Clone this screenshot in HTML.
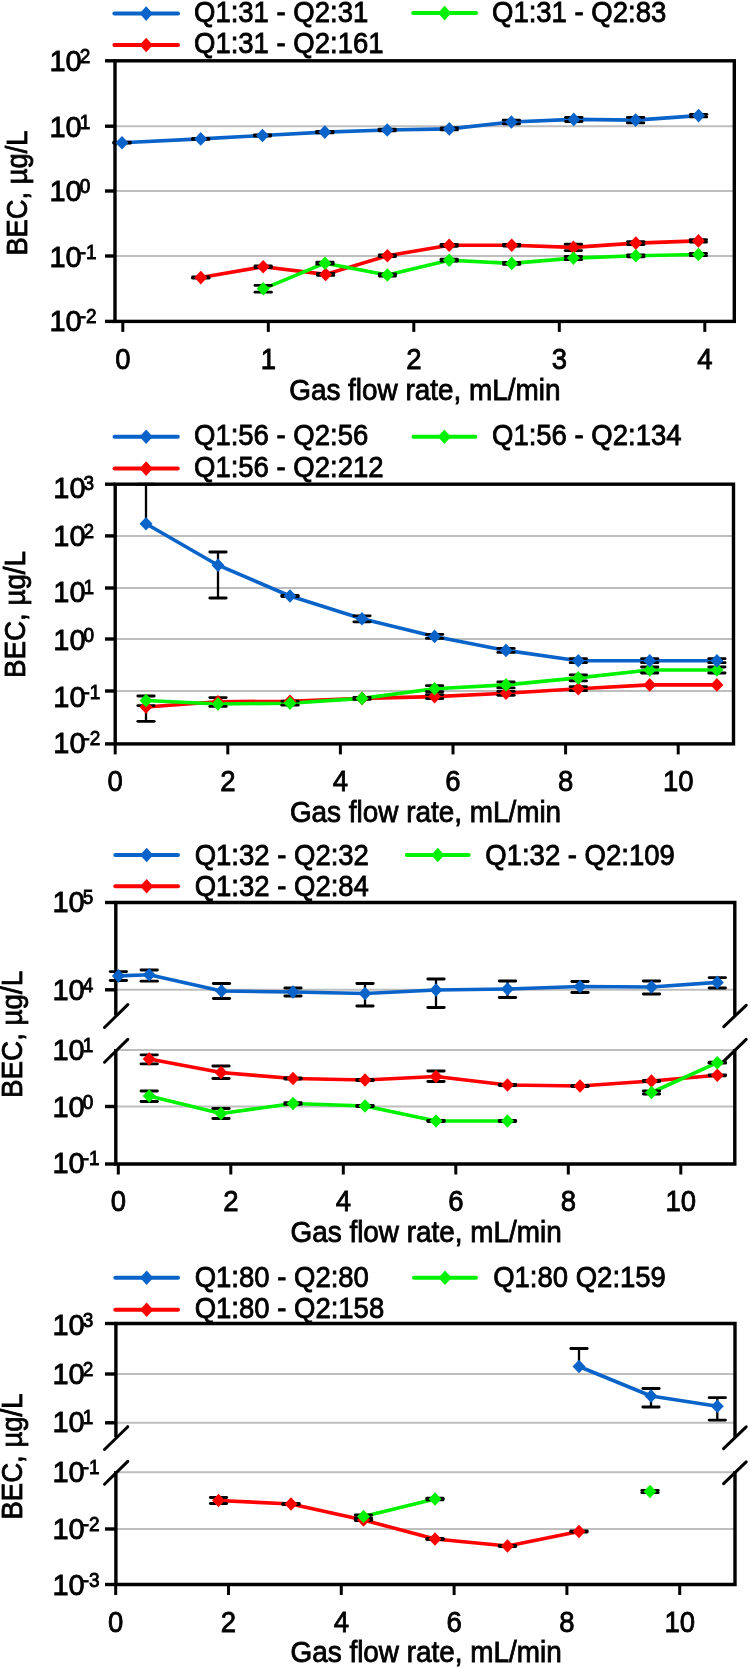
<!DOCTYPE html>
<html><head><meta charset="utf-8"><style>
html,body{margin:0;padding:0;background:#fff;}
svg{display:block;filter:blur(0.35px);}
text{font-family:"Liberation Sans",sans-serif;fill:#000;stroke:#000;stroke-width:0.8px;}
</style></head><body>
<svg width="750" height="1669" viewBox="0 0 750 1669">
<rect width="750" height="1669" fill="#fff"/>
<line x1="115" y1="126.2" x2="734.3" y2="126.2" stroke="#BEBEBE" stroke-width="2" stroke-linecap="butt"/>
<line x1="115" y1="191" x2="734.3" y2="191" stroke="#BEBEBE" stroke-width="2" stroke-linecap="butt"/>
<line x1="115" y1="256" x2="734.3" y2="256" stroke="#BEBEBE" stroke-width="2" stroke-linecap="butt"/>
<line x1="114.4" y1="13.6" x2="178" y2="13.6" stroke="#0A63C9" stroke-width="4" stroke-linecap="round"/>
<path d="M146.2 6.3L152.79999999999998 13.6L146.2 20.9L139.6 13.6Z" fill="#0A63C9"/>
<text transform="translate(194.00 21.80) scale(1 1.04)" font-size="27.5" text-anchor="start" stroke-width="0.8" >Q1:31 - Q2:31</text>
<line x1="114.4" y1="45" x2="178" y2="45" stroke="#FF0000" stroke-width="4" stroke-linecap="round"/>
<path d="M146.2 37.7L152.79999999999998 45L146.2 52.3L139.6 45Z" fill="#FF0000"/>
<text transform="translate(194.00 53.40) scale(1 1.04)" font-size="27.5" text-anchor="start" stroke-width="0.8" >Q1:31 - Q2:161</text>
<line x1="413.2" y1="13.1" x2="476" y2="13.1" stroke="#00F200" stroke-width="4" stroke-linecap="round"/>
<path d="M444.6 5.8L451.20000000000005 13.1L444.6 20.4L438.0 13.1Z" fill="#00F200"/>
<text transform="translate(492.00 21.80) scale(1 1.04)" font-size="27.5" text-anchor="start" stroke-width="0.8" >Q1:31 - Q2:83</text>
<rect x="115" y="60.8" width="619.3" height="260.59999999999997" fill="none" stroke="#000" stroke-width="3.4"/>
<line x1="105" y1="60.8" x2="115" y2="60.8" stroke="#000" stroke-width="3.4" stroke-linecap="butt"/>
<line x1="105" y1="126.2" x2="115" y2="126.2" stroke="#000" stroke-width="3.4" stroke-linecap="butt"/>
<line x1="105" y1="191" x2="115" y2="191" stroke="#000" stroke-width="3.4" stroke-linecap="butt"/>
<line x1="105" y1="256" x2="115" y2="256" stroke="#000" stroke-width="3.4" stroke-linecap="butt"/>
<line x1="105" y1="321.4" x2="115" y2="321.4" stroke="#000" stroke-width="3.4" stroke-linecap="butt"/>
<path d="M122.00 142.70C122.00 142.70 200.70 138.90 200.70 138.90C200.70 138.90 262.50 135.50 262.50 135.50C262.50 135.50 324.80 132.10 324.80 132.10C324.80 132.10 387.20 130.00 387.20 130.00C387.20 130.00 449.30 128.90 449.30 128.90C449.30 128.90 511.40 122.00 511.40 122.00C511.40 122.00 573.80 119.40 573.80 119.40C573.80 119.40 635.60 120.10 635.60 120.10C635.60 120.10 698.60 115.60 698.60 115.60" fill="none" stroke="#0A63C9" stroke-width="3.6" stroke-linejoin="round"/>
<path d="M200.80 277.60C200.80 277.60 263.20 266.70 263.20 266.70C263.20 266.70 325.60 274.40 325.60 274.40C325.60 274.40 387.40 255.80 387.40 255.80C387.40 255.80 449.20 245.30 449.20 245.30C449.20 245.30 511.70 245.30 511.70 245.30C511.70 245.30 573.40 247.40 573.40 247.40C573.40 247.40 635.80 243.10 635.80 243.10C635.80 243.10 698.40 240.90 698.40 240.90" fill="none" stroke="#FF0000" stroke-width="3.6" stroke-linejoin="round"/>
<path d="M263.20 288.80C263.20 288.80 325.00 263.20 325.00 263.20C325.00 263.20 387.40 275.00 387.40 275.00C387.40 275.00 449.20 260.20 449.20 260.20C449.20 260.20 511.70 263.40 511.70 263.40C511.70 263.40 573.40 258.10 573.40 258.10C573.40 258.10 635.80 255.80 635.80 255.80C635.80 255.80 698.40 254.50 698.40 254.50" fill="none" stroke="#00F200" stroke-width="3.6" stroke-linejoin="round"/>
<line x1="122" y1="142.2" x2="122" y2="142.7" stroke="#000" stroke-width="2.3" stroke-linecap="butt"/>
<line x1="113.8" y1="142.2" x2="130.2" y2="142.2" stroke="#000" stroke-width="2.8" stroke-linecap="round"/>
<line x1="122" y1="142.7" x2="122" y2="143.2" stroke="#000" stroke-width="2.3" stroke-linecap="butt"/>
<line x1="113.8" y1="143.2" x2="130.2" y2="143.2" stroke="#000" stroke-width="2.8" stroke-linecap="round"/>
<line x1="200.7" y1="138.4" x2="200.7" y2="138.9" stroke="#000" stroke-width="2.3" stroke-linecap="butt"/>
<line x1="192.5" y1="138.4" x2="208.89999999999998" y2="138.4" stroke="#000" stroke-width="2.8" stroke-linecap="round"/>
<line x1="200.7" y1="138.9" x2="200.7" y2="139.4" stroke="#000" stroke-width="2.3" stroke-linecap="butt"/>
<line x1="192.5" y1="139.4" x2="208.89999999999998" y2="139.4" stroke="#000" stroke-width="2.8" stroke-linecap="round"/>
<line x1="262.5" y1="135.0" x2="262.5" y2="135.5" stroke="#000" stroke-width="2.3" stroke-linecap="butt"/>
<line x1="254.3" y1="135.0" x2="270.7" y2="135.0" stroke="#000" stroke-width="2.8" stroke-linecap="round"/>
<line x1="262.5" y1="135.5" x2="262.5" y2="136.0" stroke="#000" stroke-width="2.3" stroke-linecap="butt"/>
<line x1="254.3" y1="136.0" x2="270.7" y2="136.0" stroke="#000" stroke-width="2.8" stroke-linecap="round"/>
<line x1="324.8" y1="131.29999999999998" x2="324.8" y2="132.1" stroke="#000" stroke-width="2.3" stroke-linecap="butt"/>
<line x1="316.6" y1="131.29999999999998" x2="333.0" y2="131.29999999999998" stroke="#000" stroke-width="2.8" stroke-linecap="round"/>
<line x1="324.8" y1="132.1" x2="324.8" y2="132.9" stroke="#000" stroke-width="2.3" stroke-linecap="butt"/>
<line x1="316.6" y1="132.9" x2="333.0" y2="132.9" stroke="#000" stroke-width="2.8" stroke-linecap="round"/>
<line x1="387.2" y1="129.2" x2="387.2" y2="130" stroke="#000" stroke-width="2.3" stroke-linecap="butt"/>
<line x1="379.0" y1="129.2" x2="395.4" y2="129.2" stroke="#000" stroke-width="2.8" stroke-linecap="round"/>
<line x1="387.2" y1="130" x2="387.2" y2="130.8" stroke="#000" stroke-width="2.3" stroke-linecap="butt"/>
<line x1="379.0" y1="130.8" x2="395.4" y2="130.8" stroke="#000" stroke-width="2.8" stroke-linecap="round"/>
<line x1="449.3" y1="127.9" x2="449.3" y2="128.9" stroke="#000" stroke-width="2.3" stroke-linecap="butt"/>
<line x1="441.1" y1="127.9" x2="457.5" y2="127.9" stroke="#000" stroke-width="2.8" stroke-linecap="round"/>
<line x1="449.3" y1="128.9" x2="449.3" y2="129.9" stroke="#000" stroke-width="2.3" stroke-linecap="butt"/>
<line x1="441.1" y1="129.9" x2="457.5" y2="129.9" stroke="#000" stroke-width="2.8" stroke-linecap="round"/>
<line x1="511.4" y1="120.2" x2="511.4" y2="122" stroke="#000" stroke-width="2.3" stroke-linecap="butt"/>
<line x1="503.2" y1="120.2" x2="519.6" y2="120.2" stroke="#000" stroke-width="2.8" stroke-linecap="round"/>
<line x1="511.4" y1="122" x2="511.4" y2="123.8" stroke="#000" stroke-width="2.3" stroke-linecap="butt"/>
<line x1="503.2" y1="123.8" x2="519.6" y2="123.8" stroke="#000" stroke-width="2.8" stroke-linecap="round"/>
<line x1="573.8" y1="117.30000000000001" x2="573.8" y2="119.4" stroke="#000" stroke-width="2.3" stroke-linecap="butt"/>
<line x1="565.5999999999999" y1="117.30000000000001" x2="582.0" y2="117.30000000000001" stroke="#000" stroke-width="2.8" stroke-linecap="round"/>
<line x1="573.8" y1="119.4" x2="573.8" y2="121.5" stroke="#000" stroke-width="2.3" stroke-linecap="butt"/>
<line x1="565.5999999999999" y1="121.5" x2="582.0" y2="121.5" stroke="#000" stroke-width="2.8" stroke-linecap="round"/>
<line x1="635.6" y1="117.3" x2="635.6" y2="120.1" stroke="#000" stroke-width="2.3" stroke-linecap="butt"/>
<line x1="627.4" y1="117.3" x2="643.8000000000001" y2="117.3" stroke="#000" stroke-width="2.8" stroke-linecap="round"/>
<line x1="635.6" y1="120.1" x2="635.6" y2="122.89999999999999" stroke="#000" stroke-width="2.3" stroke-linecap="butt"/>
<line x1="627.4" y1="122.89999999999999" x2="643.8000000000001" y2="122.89999999999999" stroke="#000" stroke-width="2.8" stroke-linecap="round"/>
<line x1="698.6" y1="114.3" x2="698.6" y2="115.6" stroke="#000" stroke-width="2.3" stroke-linecap="butt"/>
<line x1="690.4" y1="114.3" x2="706.8000000000001" y2="114.3" stroke="#000" stroke-width="2.8" stroke-linecap="round"/>
<line x1="698.6" y1="115.6" x2="698.6" y2="116.89999999999999" stroke="#000" stroke-width="2.3" stroke-linecap="butt"/>
<line x1="690.4" y1="116.89999999999999" x2="706.8000000000001" y2="116.89999999999999" stroke="#000" stroke-width="2.8" stroke-linecap="round"/>
<line x1="200.8" y1="277.0" x2="200.8" y2="277.6" stroke="#000" stroke-width="2.3" stroke-linecap="butt"/>
<line x1="192.60000000000002" y1="277.0" x2="209.0" y2="277.0" stroke="#000" stroke-width="2.8" stroke-linecap="round"/>
<line x1="200.8" y1="277.6" x2="200.8" y2="278.20000000000005" stroke="#000" stroke-width="2.3" stroke-linecap="butt"/>
<line x1="192.60000000000002" y1="278.20000000000005" x2="209.0" y2="278.20000000000005" stroke="#000" stroke-width="2.8" stroke-linecap="round"/>
<line x1="263.2" y1="265.9" x2="263.2" y2="266.7" stroke="#000" stroke-width="2.3" stroke-linecap="butt"/>
<line x1="255.0" y1="265.9" x2="271.4" y2="265.9" stroke="#000" stroke-width="2.8" stroke-linecap="round"/>
<line x1="263.2" y1="266.7" x2="263.2" y2="267.5" stroke="#000" stroke-width="2.3" stroke-linecap="butt"/>
<line x1="255.0" y1="267.5" x2="271.4" y2="267.5" stroke="#000" stroke-width="2.8" stroke-linecap="round"/>
<line x1="325.6" y1="273.4" x2="325.6" y2="274.4" stroke="#000" stroke-width="2.3" stroke-linecap="butt"/>
<line x1="317.40000000000003" y1="273.4" x2="333.8" y2="273.4" stroke="#000" stroke-width="2.8" stroke-linecap="round"/>
<line x1="325.6" y1="274.4" x2="325.6" y2="275.4" stroke="#000" stroke-width="2.3" stroke-linecap="butt"/>
<line x1="317.40000000000003" y1="275.4" x2="333.8" y2="275.4" stroke="#000" stroke-width="2.8" stroke-linecap="round"/>
<line x1="387.4" y1="255.0" x2="387.4" y2="255.8" stroke="#000" stroke-width="2.3" stroke-linecap="butt"/>
<line x1="379.2" y1="255.0" x2="395.59999999999997" y2="255.0" stroke="#000" stroke-width="2.8" stroke-linecap="round"/>
<line x1="387.4" y1="255.8" x2="387.4" y2="256.6" stroke="#000" stroke-width="2.3" stroke-linecap="butt"/>
<line x1="379.2" y1="256.6" x2="395.59999999999997" y2="256.6" stroke="#000" stroke-width="2.8" stroke-linecap="round"/>
<line x1="449.2" y1="244.3" x2="449.2" y2="245.3" stroke="#000" stroke-width="2.3" stroke-linecap="butt"/>
<line x1="441.0" y1="244.3" x2="457.4" y2="244.3" stroke="#000" stroke-width="2.8" stroke-linecap="round"/>
<line x1="449.2" y1="245.3" x2="449.2" y2="246.3" stroke="#000" stroke-width="2.3" stroke-linecap="butt"/>
<line x1="441.0" y1="246.3" x2="457.4" y2="246.3" stroke="#000" stroke-width="2.8" stroke-linecap="round"/>
<line x1="511.7" y1="244.5" x2="511.7" y2="245.3" stroke="#000" stroke-width="2.3" stroke-linecap="butt"/>
<line x1="503.5" y1="244.5" x2="519.9" y2="244.5" stroke="#000" stroke-width="2.8" stroke-linecap="round"/>
<line x1="511.7" y1="245.3" x2="511.7" y2="246.10000000000002" stroke="#000" stroke-width="2.3" stroke-linecap="butt"/>
<line x1="503.5" y1="246.10000000000002" x2="519.9" y2="246.10000000000002" stroke="#000" stroke-width="2.8" stroke-linecap="round"/>
<line x1="573.4" y1="244.20000000000002" x2="573.4" y2="247.4" stroke="#000" stroke-width="2.3" stroke-linecap="butt"/>
<line x1="565.1999999999999" y1="244.20000000000002" x2="581.6" y2="244.20000000000002" stroke="#000" stroke-width="2.8" stroke-linecap="round"/>
<line x1="573.4" y1="247.4" x2="573.4" y2="250.6" stroke="#000" stroke-width="2.3" stroke-linecap="butt"/>
<line x1="565.1999999999999" y1="250.6" x2="581.6" y2="250.6" stroke="#000" stroke-width="2.8" stroke-linecap="round"/>
<line x1="635.8" y1="241.6" x2="635.8" y2="243.1" stroke="#000" stroke-width="2.3" stroke-linecap="butt"/>
<line x1="627.5999999999999" y1="241.6" x2="644.0" y2="241.6" stroke="#000" stroke-width="2.8" stroke-linecap="round"/>
<line x1="635.8" y1="243.1" x2="635.8" y2="244.6" stroke="#000" stroke-width="2.3" stroke-linecap="butt"/>
<line x1="627.5999999999999" y1="244.6" x2="644.0" y2="244.6" stroke="#000" stroke-width="2.8" stroke-linecap="round"/>
<line x1="698.4" y1="239.70000000000002" x2="698.4" y2="240.9" stroke="#000" stroke-width="2.3" stroke-linecap="butt"/>
<line x1="690.1999999999999" y1="239.70000000000002" x2="706.6" y2="239.70000000000002" stroke="#000" stroke-width="2.8" stroke-linecap="round"/>
<line x1="698.4" y1="240.9" x2="698.4" y2="242.1" stroke="#000" stroke-width="2.3" stroke-linecap="butt"/>
<line x1="690.1999999999999" y1="242.1" x2="706.6" y2="242.1" stroke="#000" stroke-width="2.8" stroke-linecap="round"/>
<line x1="263.2" y1="285.40000000000003" x2="263.2" y2="288.8" stroke="#000" stroke-width="2.3" stroke-linecap="butt"/>
<line x1="255.0" y1="285.40000000000003" x2="271.4" y2="285.40000000000003" stroke="#000" stroke-width="2.8" stroke-linecap="round"/>
<line x1="263.2" y1="288.8" x2="263.2" y2="292.2" stroke="#000" stroke-width="2.3" stroke-linecap="butt"/>
<line x1="255.0" y1="292.2" x2="271.4" y2="292.2" stroke="#000" stroke-width="2.8" stroke-linecap="round"/>
<line x1="325" y1="262.2" x2="325" y2="263.2" stroke="#000" stroke-width="2.3" stroke-linecap="butt"/>
<line x1="316.8" y1="262.2" x2="333.2" y2="262.2" stroke="#000" stroke-width="2.8" stroke-linecap="round"/>
<line x1="325" y1="263.2" x2="325" y2="264.2" stroke="#000" stroke-width="2.3" stroke-linecap="butt"/>
<line x1="316.8" y1="264.2" x2="333.2" y2="264.2" stroke="#000" stroke-width="2.8" stroke-linecap="round"/>
<line x1="387.4" y1="274" x2="387.4" y2="275" stroke="#000" stroke-width="2.3" stroke-linecap="butt"/>
<line x1="379.2" y1="274" x2="395.59999999999997" y2="274" stroke="#000" stroke-width="2.8" stroke-linecap="round"/>
<line x1="387.4" y1="275" x2="387.4" y2="276" stroke="#000" stroke-width="2.3" stroke-linecap="butt"/>
<line x1="379.2" y1="276" x2="395.59999999999997" y2="276" stroke="#000" stroke-width="2.8" stroke-linecap="round"/>
<line x1="449.2" y1="259.2" x2="449.2" y2="260.2" stroke="#000" stroke-width="2.3" stroke-linecap="butt"/>
<line x1="441.0" y1="259.2" x2="457.4" y2="259.2" stroke="#000" stroke-width="2.8" stroke-linecap="round"/>
<line x1="449.2" y1="260.2" x2="449.2" y2="261.2" stroke="#000" stroke-width="2.3" stroke-linecap="butt"/>
<line x1="441.0" y1="261.2" x2="457.4" y2="261.2" stroke="#000" stroke-width="2.8" stroke-linecap="round"/>
<line x1="511.7" y1="262.4" x2="511.7" y2="263.4" stroke="#000" stroke-width="2.3" stroke-linecap="butt"/>
<line x1="503.5" y1="262.4" x2="519.9" y2="262.4" stroke="#000" stroke-width="2.8" stroke-linecap="round"/>
<line x1="511.7" y1="263.4" x2="511.7" y2="264.4" stroke="#000" stroke-width="2.3" stroke-linecap="butt"/>
<line x1="503.5" y1="264.4" x2="519.9" y2="264.4" stroke="#000" stroke-width="2.8" stroke-linecap="round"/>
<line x1="573.4" y1="256.5" x2="573.4" y2="258.1" stroke="#000" stroke-width="2.3" stroke-linecap="butt"/>
<line x1="565.1999999999999" y1="256.5" x2="581.6" y2="256.5" stroke="#000" stroke-width="2.8" stroke-linecap="round"/>
<line x1="573.4" y1="258.1" x2="573.4" y2="259.70000000000005" stroke="#000" stroke-width="2.3" stroke-linecap="butt"/>
<line x1="565.1999999999999" y1="259.70000000000005" x2="581.6" y2="259.70000000000005" stroke="#000" stroke-width="2.8" stroke-linecap="round"/>
<line x1="635.8" y1="254.8" x2="635.8" y2="255.8" stroke="#000" stroke-width="2.3" stroke-linecap="butt"/>
<line x1="627.5999999999999" y1="254.8" x2="644.0" y2="254.8" stroke="#000" stroke-width="2.8" stroke-linecap="round"/>
<line x1="635.8" y1="255.8" x2="635.8" y2="256.8" stroke="#000" stroke-width="2.3" stroke-linecap="butt"/>
<line x1="627.5999999999999" y1="256.8" x2="644.0" y2="256.8" stroke="#000" stroke-width="2.8" stroke-linecap="round"/>
<line x1="698.4" y1="253.3" x2="698.4" y2="254.5" stroke="#000" stroke-width="2.3" stroke-linecap="butt"/>
<line x1="690.1999999999999" y1="253.3" x2="706.6" y2="253.3" stroke="#000" stroke-width="2.8" stroke-linecap="round"/>
<line x1="698.4" y1="254.5" x2="698.4" y2="255.7" stroke="#000" stroke-width="2.3" stroke-linecap="butt"/>
<line x1="690.1999999999999" y1="255.7" x2="706.6" y2="255.7" stroke="#000" stroke-width="2.8" stroke-linecap="round"/>
<path d="M200.8 270.8L207.3 277.6L200.8 284.40000000000003L194.3 277.6Z" fill="#FF0000"/>
<path d="M263.2 259.9L269.7 266.7L263.2 273.5L256.7 266.7Z" fill="#FF0000"/>
<path d="M325.6 267.59999999999997L332.1 274.4L325.6 281.2L319.1 274.4Z" fill="#FF0000"/>
<path d="M387.4 249.0L393.9 255.8L387.4 262.6L380.9 255.8Z" fill="#FF0000"/>
<path d="M449.2 238.5L455.7 245.3L449.2 252.10000000000002L442.7 245.3Z" fill="#FF0000"/>
<path d="M511.7 238.5L518.2 245.3L511.7 252.10000000000002L505.2 245.3Z" fill="#FF0000"/>
<path d="M573.4 240.6L579.9 247.4L573.4 254.20000000000002L566.9 247.4Z" fill="#FF0000"/>
<path d="M635.8 236.29999999999998L642.3 243.1L635.8 249.9L629.3 243.1Z" fill="#FF0000"/>
<path d="M698.4 234.1L704.9 240.9L698.4 247.70000000000002L691.9 240.9Z" fill="#FF0000"/>
<path d="M263.2 282.0L269.7 288.8L263.2 295.6L256.7 288.8Z" fill="#00F200"/>
<path d="M325 256.4L331.5 263.2L325 270.0L318.5 263.2Z" fill="#00F200"/>
<path d="M387.4 268.2L393.9 275L387.4 281.8L380.9 275Z" fill="#00F200"/>
<path d="M449.2 253.39999999999998L455.7 260.2L449.2 267.0L442.7 260.2Z" fill="#00F200"/>
<path d="M511.7 256.59999999999997L518.2 263.4L511.7 270.2L505.2 263.4Z" fill="#00F200"/>
<path d="M573.4 251.3L579.9 258.1L573.4 264.90000000000003L566.9 258.1Z" fill="#00F200"/>
<path d="M635.8 249.0L642.3 255.8L635.8 262.6L629.3 255.8Z" fill="#00F200"/>
<path d="M698.4 247.7L704.9 254.5L698.4 261.3L691.9 254.5Z" fill="#00F200"/>
<path d="M122 135.89999999999998L128.5 142.7L122 149.5L115.5 142.7Z" fill="#0A63C9"/>
<path d="M200.7 132.1L207.2 138.9L200.7 145.70000000000002L194.2 138.9Z" fill="#0A63C9"/>
<path d="M262.5 128.7L269.0 135.5L262.5 142.3L256.0 135.5Z" fill="#0A63C9"/>
<path d="M324.8 125.3L331.3 132.1L324.8 138.9L318.3 132.1Z" fill="#0A63C9"/>
<path d="M387.2 123.2L393.7 130L387.2 136.8L380.7 130Z" fill="#0A63C9"/>
<path d="M449.3 122.10000000000001L455.8 128.9L449.3 135.70000000000002L442.8 128.9Z" fill="#0A63C9"/>
<path d="M511.4 115.2L517.9 122L511.4 128.8L504.9 122Z" fill="#0A63C9"/>
<path d="M573.8 112.60000000000001L580.3 119.4L573.8 126.2L567.3 119.4Z" fill="#0A63C9"/>
<path d="M635.6 113.3L642.1 120.1L635.6 126.89999999999999L629.1 120.1Z" fill="#0A63C9"/>
<path d="M698.6 108.8L705.1 115.6L698.6 122.39999999999999L692.1 115.6Z" fill="#0A63C9"/>
<line x1="122.8" y1="321.4" x2="122.8" y2="331.9" stroke="#000" stroke-width="3" stroke-linecap="butt"/>
<text transform="translate(122.80 369.20) scale(1 1.04)" font-size="27.5" text-anchor="middle" stroke-width="0.8" >0</text>
<line x1="268.3" y1="321.4" x2="268.3" y2="331.9" stroke="#000" stroke-width="3" stroke-linecap="butt"/>
<text transform="translate(268.30 369.20) scale(1 1.04)" font-size="27.5" text-anchor="middle" stroke-width="0.8" >1</text>
<line x1="413.8" y1="321.4" x2="413.8" y2="331.9" stroke="#000" stroke-width="3" stroke-linecap="butt"/>
<text transform="translate(413.80 369.20) scale(1 1.04)" font-size="27.5" text-anchor="middle" stroke-width="0.8" >2</text>
<line x1="559.3" y1="321.4" x2="559.3" y2="331.9" stroke="#000" stroke-width="3" stroke-linecap="butt"/>
<text transform="translate(559.30 369.20) scale(1 1.04)" font-size="27.5" text-anchor="middle" stroke-width="0.8" >3</text>
<line x1="704.8" y1="321.4" x2="704.8" y2="331.9" stroke="#000" stroke-width="3" stroke-linecap="butt"/>
<text transform="translate(704.80 369.20) scale(1 1.04)" font-size="27.5" text-anchor="middle" stroke-width="0.8" >4</text>
<text transform="translate(289.20 399.50) scale(1 1.04)" font-size="27.9" text-anchor="start" stroke-width="0.8" >Gas flow rate, mL/min</text>
<text transform="translate(49.40 70.88) scale(1 1.04)" font-size="29" stroke-width="0.8">10<tspan font-size="19" dx="-2" dy="-7.6">2</tspan></text>
<text transform="translate(49.40 136.58) scale(1 1.04)" font-size="29" stroke-width="0.8">10<tspan font-size="19" dx="-2" dy="-7.6">1</tspan></text>
<text transform="translate(49.40 201.38) scale(1 1.04)" font-size="29" stroke-width="0.8">10<tspan font-size="19" dx="-2" dy="-7.6">0</tspan></text>
<text transform="translate(49.40 267.08) scale(1 1.04)" font-size="29" stroke-width="0.8">10<tspan font-size="19" dx="-2" dy="-7.6">-1</tspan></text>
<text transform="translate(49.40 331.28) scale(1 1.04)" font-size="29" stroke-width="0.8">10<tspan font-size="19" dx="-2" dy="-7.6">-2</tspan></text>
<text transform="translate(27.3,193.1) rotate(-90) scale(1 1.04)" x="-62.5" y="0" font-size="28" textLength="125" lengthAdjust="spacingAndGlyphs" stroke="#000" stroke-width="0.7">BEC, µg/L</text>
<line x1="115.2" y1="535.9" x2="733.5" y2="535.9" stroke="#BEBEBE" stroke-width="2" stroke-linecap="butt"/>
<line x1="115.2" y1="588" x2="733.5" y2="588" stroke="#BEBEBE" stroke-width="2" stroke-linecap="butt"/>
<line x1="115.2" y1="639" x2="733.5" y2="639" stroke="#BEBEBE" stroke-width="2" stroke-linecap="butt"/>
<line x1="115.2" y1="691" x2="733.5" y2="691" stroke="#BEBEBE" stroke-width="2" stroke-linecap="butt"/>
<line x1="114.5" y1="436.8" x2="177.8" y2="436.8" stroke="#0A63C9" stroke-width="4" stroke-linecap="round"/>
<path d="M146.15 429.5L152.75 436.8L146.15 444.1L139.55 436.8Z" fill="#0A63C9"/>
<text transform="translate(194.00 445.30) scale(1 1.04)" font-size="27.5" text-anchor="start" stroke-width="0.8" >Q1:56 - Q2:56</text>
<line x1="114.5" y1="468.6" x2="177.8" y2="468.6" stroke="#FF0000" stroke-width="4" stroke-linecap="round"/>
<path d="M146.15 461.3L152.75 468.6L146.15 475.90000000000003L139.55 468.6Z" fill="#FF0000"/>
<text transform="translate(194.00 477.00) scale(1 1.04)" font-size="27.5" text-anchor="start" stroke-width="0.8" >Q1:56 - Q2:212</text>
<line x1="413.5" y1="436.8" x2="475.3" y2="436.8" stroke="#00F200" stroke-width="4" stroke-linecap="round"/>
<path d="M444.4 429.5L451.0 436.8L444.4 444.1L437.79999999999995 436.8Z" fill="#00F200"/>
<text transform="translate(492.00 445.30) scale(1 1.04)" font-size="27.5" text-anchor="start" stroke-width="0.8" >Q1:56 - Q2:134</text>
<rect x="115.2" y="484.2" width="618.3" height="259.7" fill="none" stroke="#000" stroke-width="3.4"/>
<line x1="105" y1="484.2" x2="115.2" y2="484.2" stroke="#000" stroke-width="3.4" stroke-linecap="butt"/>
<line x1="105" y1="535.9" x2="115.2" y2="535.9" stroke="#000" stroke-width="3.4" stroke-linecap="butt"/>
<line x1="105" y1="588" x2="115.2" y2="588" stroke="#000" stroke-width="3.4" stroke-linecap="butt"/>
<line x1="105" y1="639" x2="115.2" y2="639" stroke="#000" stroke-width="3.4" stroke-linecap="butt"/>
<line x1="105" y1="691" x2="115.2" y2="691" stroke="#000" stroke-width="3.4" stroke-linecap="butt"/>
<line x1="105" y1="743.9" x2="115.2" y2="743.9" stroke="#000" stroke-width="3.4" stroke-linecap="butt"/>
<path d="M146.00 523.80C146.00 523.80 218.00 565.20 218.00 565.20C218.00 565.20 290.00 596.00 290.00 596.00C290.00 596.00 362.00 618.80 362.00 618.80C362.00 618.80 434.60 636.40 434.60 636.40C434.60 636.40 506.00 650.40 506.00 650.40C506.00 650.40 578.30 660.70 578.30 660.70C578.30 660.70 649.70 660.70 649.70 660.70C649.70 660.70 716.90 660.70 716.90 660.70" fill="none" stroke="#0A63C9" stroke-width="3.6" stroke-linejoin="round"/>
<path d="M146.00 707.00C146.00 707.00 218.00 701.70 218.00 701.70C218.00 701.70 290.00 701.20 290.00 701.20C290.00 701.20 362.00 698.40 362.00 698.40C362.00 698.40 434.60 696.60 434.60 696.60C434.60 696.60 506.00 693.30 506.00 693.30C506.00 693.30 578.30 688.70 578.30 688.70C578.30 688.70 649.70 684.90 649.70 684.90C649.70 684.90 716.90 684.90 716.90 684.90" fill="none" stroke="#FF0000" stroke-width="3.6" stroke-linejoin="round"/>
<path d="M146.00 700.50C146.00 700.50 218.00 704.00 218.00 704.00C218.00 704.00 290.00 703.20 290.00 703.20C290.00 703.20 362.00 698.40 362.00 698.40C362.00 698.40 434.60 688.70 434.60 688.70C434.60 688.70 506.00 684.90 506.00 684.90C506.00 684.90 578.30 677.90 578.30 677.90C578.30 677.90 649.70 670.00 649.70 670.00C649.70 670.00 716.90 670.00 716.90 670.00" fill="none" stroke="#00F200" stroke-width="3.6" stroke-linejoin="round"/>
<line x1="146" y1="484.2" x2="146" y2="523.8" stroke="#000" stroke-width="2.3" stroke-linecap="butt"/>
<line x1="137.8" y1="484.2" x2="154.2" y2="484.2" stroke="#000" stroke-width="2.8" stroke-linecap="round"/>
<line x1="218" y1="552" x2="218" y2="565.2" stroke="#000" stroke-width="2.3" stroke-linecap="butt"/>
<line x1="209.8" y1="552" x2="226.2" y2="552" stroke="#000" stroke-width="2.8" stroke-linecap="round"/>
<line x1="218" y1="565.2" x2="218" y2="598" stroke="#000" stroke-width="2.3" stroke-linecap="butt"/>
<line x1="209.8" y1="598" x2="226.2" y2="598" stroke="#000" stroke-width="2.8" stroke-linecap="round"/>
<line x1="290" y1="595.5" x2="290" y2="596" stroke="#000" stroke-width="2.3" stroke-linecap="butt"/>
<line x1="281.8" y1="595.5" x2="298.2" y2="595.5" stroke="#000" stroke-width="2.8" stroke-linecap="round"/>
<line x1="290" y1="596" x2="290" y2="596.5" stroke="#000" stroke-width="2.3" stroke-linecap="butt"/>
<line x1="281.8" y1="596.5" x2="298.2" y2="596.5" stroke="#000" stroke-width="2.8" stroke-linecap="round"/>
<line x1="362" y1="615.8" x2="362" y2="618.8" stroke="#000" stroke-width="2.3" stroke-linecap="butt"/>
<line x1="353.8" y1="615.8" x2="370.2" y2="615.8" stroke="#000" stroke-width="2.8" stroke-linecap="round"/>
<line x1="362" y1="618.8" x2="362" y2="621.8" stroke="#000" stroke-width="2.3" stroke-linecap="butt"/>
<line x1="353.8" y1="621.8" x2="370.2" y2="621.8" stroke="#000" stroke-width="2.8" stroke-linecap="round"/>
<line x1="434.6" y1="634.4" x2="434.6" y2="636.4" stroke="#000" stroke-width="2.3" stroke-linecap="butt"/>
<line x1="426.40000000000003" y1="634.4" x2="442.8" y2="634.4" stroke="#000" stroke-width="2.8" stroke-linecap="round"/>
<line x1="434.6" y1="636.4" x2="434.6" y2="638.4" stroke="#000" stroke-width="2.3" stroke-linecap="butt"/>
<line x1="426.40000000000003" y1="638.4" x2="442.8" y2="638.4" stroke="#000" stroke-width="2.8" stroke-linecap="round"/>
<line x1="506" y1="648.4" x2="506" y2="650.4" stroke="#000" stroke-width="2.3" stroke-linecap="butt"/>
<line x1="497.8" y1="648.4" x2="514.2" y2="648.4" stroke="#000" stroke-width="2.8" stroke-linecap="round"/>
<line x1="506" y1="650.4" x2="506" y2="652.4" stroke="#000" stroke-width="2.3" stroke-linecap="butt"/>
<line x1="497.8" y1="652.4" x2="514.2" y2="652.4" stroke="#000" stroke-width="2.8" stroke-linecap="round"/>
<line x1="578.3" y1="658.7" x2="578.3" y2="660.7" stroke="#000" stroke-width="2.3" stroke-linecap="butt"/>
<line x1="570.0999999999999" y1="658.7" x2="586.5" y2="658.7" stroke="#000" stroke-width="2.8" stroke-linecap="round"/>
<line x1="578.3" y1="660.7" x2="578.3" y2="662.7" stroke="#000" stroke-width="2.3" stroke-linecap="butt"/>
<line x1="570.0999999999999" y1="662.7" x2="586.5" y2="662.7" stroke="#000" stroke-width="2.8" stroke-linecap="round"/>
<line x1="649.7" y1="658.7" x2="649.7" y2="660.7" stroke="#000" stroke-width="2.3" stroke-linecap="butt"/>
<line x1="641.5" y1="658.7" x2="657.9000000000001" y2="658.7" stroke="#000" stroke-width="2.8" stroke-linecap="round"/>
<line x1="649.7" y1="660.7" x2="649.7" y2="662.7" stroke="#000" stroke-width="2.3" stroke-linecap="butt"/>
<line x1="641.5" y1="662.7" x2="657.9000000000001" y2="662.7" stroke="#000" stroke-width="2.8" stroke-linecap="round"/>
<line x1="716.9" y1="658.7" x2="716.9" y2="660.7" stroke="#000" stroke-width="2.3" stroke-linecap="butt"/>
<line x1="708.6999999999999" y1="658.7" x2="725.1" y2="658.7" stroke="#000" stroke-width="2.8" stroke-linecap="round"/>
<line x1="716.9" y1="660.7" x2="716.9" y2="662.7" stroke="#000" stroke-width="2.3" stroke-linecap="butt"/>
<line x1="708.6999999999999" y1="662.7" x2="725.1" y2="662.7" stroke="#000" stroke-width="2.8" stroke-linecap="round"/>
<line x1="146" y1="707" x2="146" y2="721.3" stroke="#000" stroke-width="2.3" stroke-linecap="butt"/>
<line x1="137.8" y1="721.3" x2="154.2" y2="721.3" stroke="#000" stroke-width="2.8" stroke-linecap="round"/>
<line x1="434.6" y1="694.6" x2="434.6" y2="696.6" stroke="#000" stroke-width="2.3" stroke-linecap="butt"/>
<line x1="426.40000000000003" y1="694.6" x2="442.8" y2="694.6" stroke="#000" stroke-width="2.8" stroke-linecap="round"/>
<line x1="434.6" y1="696.6" x2="434.6" y2="698.6" stroke="#000" stroke-width="2.3" stroke-linecap="butt"/>
<line x1="426.40000000000003" y1="698.6" x2="442.8" y2="698.6" stroke="#000" stroke-width="2.8" stroke-linecap="round"/>
<line x1="506" y1="691.3" x2="506" y2="693.3" stroke="#000" stroke-width="2.3" stroke-linecap="butt"/>
<line x1="497.8" y1="691.3" x2="514.2" y2="691.3" stroke="#000" stroke-width="2.8" stroke-linecap="round"/>
<line x1="506" y1="693.3" x2="506" y2="695.3" stroke="#000" stroke-width="2.3" stroke-linecap="butt"/>
<line x1="497.8" y1="695.3" x2="514.2" y2="695.3" stroke="#000" stroke-width="2.8" stroke-linecap="round"/>
<line x1="578.3" y1="686.7" x2="578.3" y2="688.7" stroke="#000" stroke-width="2.3" stroke-linecap="butt"/>
<line x1="570.0999999999999" y1="686.7" x2="586.5" y2="686.7" stroke="#000" stroke-width="2.8" stroke-linecap="round"/>
<line x1="578.3" y1="688.7" x2="578.3" y2="690.7" stroke="#000" stroke-width="2.3" stroke-linecap="butt"/>
<line x1="570.0999999999999" y1="690.7" x2="586.5" y2="690.7" stroke="#000" stroke-width="2.8" stroke-linecap="round"/>
<line x1="146" y1="696" x2="146" y2="700.5" stroke="#000" stroke-width="2.3" stroke-linecap="butt"/>
<line x1="137.8" y1="696" x2="154.2" y2="696" stroke="#000" stroke-width="2.8" stroke-linecap="round"/>
<line x1="146" y1="700.5" x2="146" y2="705.6" stroke="#000" stroke-width="2.3" stroke-linecap="butt"/>
<line x1="137.8" y1="705.6" x2="154.2" y2="705.6" stroke="#000" stroke-width="2.8" stroke-linecap="round"/>
<line x1="218" y1="697.6" x2="218" y2="704" stroke="#000" stroke-width="2.3" stroke-linecap="butt"/>
<line x1="209.8" y1="697.6" x2="226.2" y2="697.6" stroke="#000" stroke-width="2.8" stroke-linecap="round"/>
<line x1="218" y1="704" x2="218" y2="706.4" stroke="#000" stroke-width="2.3" stroke-linecap="butt"/>
<line x1="209.8" y1="706.4" x2="226.2" y2="706.4" stroke="#000" stroke-width="2.8" stroke-linecap="round"/>
<line x1="290" y1="701.2" x2="290" y2="703.2" stroke="#000" stroke-width="2.3" stroke-linecap="butt"/>
<line x1="281.8" y1="701.2" x2="298.2" y2="701.2" stroke="#000" stroke-width="2.8" stroke-linecap="round"/>
<line x1="290" y1="703.2" x2="290" y2="705.2" stroke="#000" stroke-width="2.3" stroke-linecap="butt"/>
<line x1="281.8" y1="705.2" x2="298.2" y2="705.2" stroke="#000" stroke-width="2.8" stroke-linecap="round"/>
<line x1="362" y1="697.4" x2="362" y2="698.4" stroke="#000" stroke-width="2.3" stroke-linecap="butt"/>
<line x1="353.8" y1="697.4" x2="370.2" y2="697.4" stroke="#000" stroke-width="2.8" stroke-linecap="round"/>
<line x1="362" y1="698.4" x2="362" y2="699.4" stroke="#000" stroke-width="2.3" stroke-linecap="butt"/>
<line x1="353.8" y1="699.4" x2="370.2" y2="699.4" stroke="#000" stroke-width="2.8" stroke-linecap="round"/>
<line x1="434.6" y1="685.7" x2="434.6" y2="688.7" stroke="#000" stroke-width="2.3" stroke-linecap="butt"/>
<line x1="426.40000000000003" y1="685.7" x2="442.8" y2="685.7" stroke="#000" stroke-width="2.8" stroke-linecap="round"/>
<line x1="434.6" y1="688.7" x2="434.6" y2="691.7" stroke="#000" stroke-width="2.3" stroke-linecap="butt"/>
<line x1="426.40000000000003" y1="691.7" x2="442.8" y2="691.7" stroke="#000" stroke-width="2.8" stroke-linecap="round"/>
<line x1="506" y1="681.9" x2="506" y2="684.9" stroke="#000" stroke-width="2.3" stroke-linecap="butt"/>
<line x1="497.8" y1="681.9" x2="514.2" y2="681.9" stroke="#000" stroke-width="2.8" stroke-linecap="round"/>
<line x1="506" y1="684.9" x2="506" y2="687.9" stroke="#000" stroke-width="2.3" stroke-linecap="butt"/>
<line x1="497.8" y1="687.9" x2="514.2" y2="687.9" stroke="#000" stroke-width="2.8" stroke-linecap="round"/>
<line x1="578.3" y1="674.9" x2="578.3" y2="677.9" stroke="#000" stroke-width="2.3" stroke-linecap="butt"/>
<line x1="570.0999999999999" y1="674.9" x2="586.5" y2="674.9" stroke="#000" stroke-width="2.8" stroke-linecap="round"/>
<line x1="578.3" y1="677.9" x2="578.3" y2="680.9" stroke="#000" stroke-width="2.3" stroke-linecap="butt"/>
<line x1="570.0999999999999" y1="680.9" x2="586.5" y2="680.9" stroke="#000" stroke-width="2.8" stroke-linecap="round"/>
<line x1="649.7" y1="667" x2="649.7" y2="670" stroke="#000" stroke-width="2.3" stroke-linecap="butt"/>
<line x1="641.5" y1="667" x2="657.9000000000001" y2="667" stroke="#000" stroke-width="2.8" stroke-linecap="round"/>
<line x1="649.7" y1="670" x2="649.7" y2="673" stroke="#000" stroke-width="2.3" stroke-linecap="butt"/>
<line x1="641.5" y1="673" x2="657.9000000000001" y2="673" stroke="#000" stroke-width="2.8" stroke-linecap="round"/>
<line x1="716.9" y1="667" x2="716.9" y2="670" stroke="#000" stroke-width="2.3" stroke-linecap="butt"/>
<line x1="708.6999999999999" y1="667" x2="725.1" y2="667" stroke="#000" stroke-width="2.8" stroke-linecap="round"/>
<line x1="716.9" y1="670" x2="716.9" y2="673" stroke="#000" stroke-width="2.3" stroke-linecap="butt"/>
<line x1="708.6999999999999" y1="673" x2="725.1" y2="673" stroke="#000" stroke-width="2.8" stroke-linecap="round"/>
<path d="M146 700.2L152.5 707L146 713.8L139.5 707Z" fill="#FF0000"/>
<path d="M218 694.9000000000001L224.5 701.7L218 708.5L211.5 701.7Z" fill="#FF0000"/>
<path d="M290 694.4000000000001L296.5 701.2L290 708.0L283.5 701.2Z" fill="#FF0000"/>
<path d="M362 691.6L368.5 698.4L362 705.1999999999999L355.5 698.4Z" fill="#FF0000"/>
<path d="M434.6 689.8000000000001L441.1 696.6L434.6 703.4L428.1 696.6Z" fill="#FF0000"/>
<path d="M506 686.5L512.5 693.3L506 700.0999999999999L499.5 693.3Z" fill="#FF0000"/>
<path d="M578.3 681.9000000000001L584.8 688.7L578.3 695.5L571.8 688.7Z" fill="#FF0000"/>
<path d="M649.7 678.1L656.2 684.9L649.7 691.6999999999999L643.2 684.9Z" fill="#FF0000"/>
<path d="M716.9 678.1L723.4 684.9L716.9 691.6999999999999L710.4 684.9Z" fill="#FF0000"/>
<path d="M146 693.7L152.5 700.5L146 707.3L139.5 700.5Z" fill="#00F200"/>
<path d="M218 697.2L224.5 704L218 710.8L211.5 704Z" fill="#00F200"/>
<path d="M290 696.4000000000001L296.5 703.2L290 710.0L283.5 703.2Z" fill="#00F200"/>
<path d="M362 691.6L368.5 698.4L362 705.1999999999999L355.5 698.4Z" fill="#00F200"/>
<path d="M434.6 681.9000000000001L441.1 688.7L434.6 695.5L428.1 688.7Z" fill="#00F200"/>
<path d="M506 678.1L512.5 684.9L506 691.6999999999999L499.5 684.9Z" fill="#00F200"/>
<path d="M578.3 671.1L584.8 677.9L578.3 684.6999999999999L571.8 677.9Z" fill="#00F200"/>
<path d="M649.7 663.2L656.2 670L649.7 676.8L643.2 670Z" fill="#00F200"/>
<path d="M716.9 663.2L723.4 670L716.9 676.8L710.4 670Z" fill="#00F200"/>
<path d="M146 517.0L152.5 523.8L146 530.5999999999999L139.5 523.8Z" fill="#0A63C9"/>
<path d="M218 558.4000000000001L224.5 565.2L218 572.0L211.5 565.2Z" fill="#0A63C9"/>
<path d="M290 589.2L296.5 596L290 602.8L283.5 596Z" fill="#0A63C9"/>
<path d="M362 612.0L368.5 618.8L362 625.5999999999999L355.5 618.8Z" fill="#0A63C9"/>
<path d="M434.6 629.6L441.1 636.4L434.6 643.1999999999999L428.1 636.4Z" fill="#0A63C9"/>
<path d="M506 643.6L512.5 650.4L506 657.1999999999999L499.5 650.4Z" fill="#0A63C9"/>
<path d="M578.3 653.9000000000001L584.8 660.7L578.3 667.5L571.8 660.7Z" fill="#0A63C9"/>
<path d="M649.7 653.9000000000001L656.2 660.7L649.7 667.5L643.2 660.7Z" fill="#0A63C9"/>
<path d="M716.9 653.9000000000001L723.4 660.7L716.9 667.5L710.4 660.7Z" fill="#0A63C9"/>
<line x1="115.2" y1="743.9" x2="115.2" y2="754.4" stroke="#000" stroke-width="3" stroke-linecap="butt"/>
<text transform="translate(115.20 790.70) scale(1 1.04)" font-size="27.5" text-anchor="middle" stroke-width="0.8" >0</text>
<line x1="227.8" y1="743.9" x2="227.8" y2="754.4" stroke="#000" stroke-width="3" stroke-linecap="butt"/>
<text transform="translate(227.80 790.70) scale(1 1.04)" font-size="27.5" text-anchor="middle" stroke-width="0.8" >2</text>
<line x1="340.4" y1="743.9" x2="340.4" y2="754.4" stroke="#000" stroke-width="3" stroke-linecap="butt"/>
<text transform="translate(340.40 790.70) scale(1 1.04)" font-size="27.5" text-anchor="middle" stroke-width="0.8" >4</text>
<line x1="452.99999999999994" y1="743.9" x2="452.99999999999994" y2="754.4" stroke="#000" stroke-width="3" stroke-linecap="butt"/>
<text transform="translate(453.00 790.70) scale(1 1.04)" font-size="27.5" text-anchor="middle" stroke-width="0.8" >6</text>
<line x1="565.6" y1="743.9" x2="565.6" y2="754.4" stroke="#000" stroke-width="3" stroke-linecap="butt"/>
<text transform="translate(565.60 790.70) scale(1 1.04)" font-size="27.5" text-anchor="middle" stroke-width="0.8" >8</text>
<line x1="678.2" y1="743.9" x2="678.2" y2="754.4" stroke="#000" stroke-width="3" stroke-linecap="butt"/>
<text transform="translate(678.20 790.70) scale(1 1.04)" font-size="27.5" text-anchor="middle" stroke-width="0.8" >10</text>
<text transform="translate(289.90 821.70) scale(1 1.04)" font-size="27.9" text-anchor="start" stroke-width="0.8" >Gas flow rate, mL/min</text>
<text transform="translate(53.30 498.08) scale(1 1.04)" font-size="29" stroke-width="0.8">10<tspan font-size="19" dx="-2" dy="-7.6">3</tspan></text>
<text transform="translate(53.30 546.18) scale(1 1.04)" font-size="29" stroke-width="0.8">10<tspan font-size="19" dx="-2" dy="-7.6">2</tspan></text>
<text transform="translate(53.30 601.88) scale(1 1.04)" font-size="29" stroke-width="0.8">10<tspan font-size="19" dx="-2" dy="-7.6">1</tspan></text>
<text transform="translate(53.30 649.68) scale(1 1.04)" font-size="29" stroke-width="0.8">10<tspan font-size="19" dx="-2" dy="-7.6">0</tspan></text>
<text transform="translate(53.30 706.68) scale(1 1.04)" font-size="29" stroke-width="0.8">10<tspan font-size="19" dx="-2" dy="-7.6">-1</tspan></text>
<text transform="translate(53.30 753.18) scale(1 1.04)" font-size="29" stroke-width="0.8">10<tspan font-size="19" dx="-2" dy="-7.6">-2</tspan></text>
<text transform="translate(24.8,614.5) rotate(-90) scale(1 1.04)" x="-63.5" y="0" font-size="28" textLength="127" lengthAdjust="spacingAndGlyphs" stroke="#000" stroke-width="0.7">BEC, µg/L</text>
<line x1="115.8" y1="989.8" x2="734.8" y2="989.8" stroke="#BEBEBE" stroke-width="2" stroke-linecap="butt"/>
<line x1="115.8" y1="1050" x2="734.8" y2="1050" stroke="#BEBEBE" stroke-width="2" stroke-linecap="butt"/>
<line x1="115.8" y1="1106.5" x2="734.8" y2="1106.5" stroke="#BEBEBE" stroke-width="2" stroke-linecap="butt"/>
<line x1="115.3" y1="855" x2="178" y2="855" stroke="#0A63C9" stroke-width="4" stroke-linecap="round"/>
<path d="M146.65 847.7L153.25 855L146.65 862.3L140.05 855Z" fill="#0A63C9"/>
<text transform="translate(194.70 864.70) scale(1 1.04)" font-size="27.5" text-anchor="start" stroke-width="1.0" >Q1:32 - Q2:32</text>
<line x1="115.3" y1="886.2" x2="178" y2="886.2" stroke="#FF0000" stroke-width="4" stroke-linecap="round"/>
<path d="M146.65 878.9000000000001L153.25 886.2L146.65 893.5L140.05 886.2Z" fill="#FF0000"/>
<text transform="translate(194.70 896.40) scale(1 1.04)" font-size="27.5" text-anchor="start" stroke-width="1.0" >Q1:32 - Q2:84</text>
<line x1="406.8" y1="855" x2="468.7" y2="855" stroke="#00F200" stroke-width="4" stroke-linecap="round"/>
<path d="M437.75 847.7L444.35 855L437.75 862.3L431.15 855Z" fill="#00F200"/>
<text transform="translate(485.30 864.70) scale(1 1.04)" font-size="27.5" text-anchor="start" stroke-width="1.0" >Q1:32 - Q2:109</text>
<path d="M115.8 1015.5V902.5H734.8V1015.5" fill="none" stroke="#000" stroke-width="3.4"/>
<path d="M115.8 1049V1164H734.8V1049" fill="none" stroke="#000" stroke-width="3.4"/>
<line x1="104.5" y1="1027.5" x2="127.8" y2="1004.6" stroke="#000" stroke-width="3" stroke-linecap="round"/>
<line x1="104.5" y1="1062.2" x2="127.8" y2="1039.4" stroke="#000" stroke-width="3" stroke-linecap="round"/>
<line x1="723.8" y1="1026.6" x2="746.2" y2="1005.3" stroke="#000" stroke-width="3" stroke-linecap="round"/>
<line x1="723.6" y1="1061.3" x2="746.2" y2="1039.4" stroke="#000" stroke-width="3" stroke-linecap="round"/>
<line x1="105" y1="902.5" x2="115.8" y2="902.5" stroke="#000" stroke-width="3.4" stroke-linecap="butt"/>
<line x1="105" y1="989.8" x2="115.8" y2="989.8" stroke="#000" stroke-width="3.4" stroke-linecap="butt"/>
<line x1="105" y1="1106.5" x2="115.8" y2="1106.5" stroke="#000" stroke-width="3.4" stroke-linecap="butt"/>
<line x1="105" y1="1164" x2="115.8" y2="1164" stroke="#000" stroke-width="3.4" stroke-linecap="butt"/>
<path d="M118.40 975.90C118.40 975.90 149.20 974.80 149.20 974.80C149.20 974.80 221.50 991.00 221.50 991.00C221.50 991.00 293.00 992.00 293.00 992.00C293.00 992.00 365.00 993.50 365.00 993.50C365.00 993.50 436.00 990.00 436.00 990.00C436.00 990.00 507.50 989.00 507.50 989.00C507.50 989.00 580.00 986.50 580.00 986.50C580.00 986.50 651.50 987.00 651.50 987.00C651.50 987.00 717.30 982.40 717.30 982.40" fill="none" stroke="#0A63C9" stroke-width="3.6" stroke-linejoin="round"/>
<path d="M149.20 1059.00C149.20 1059.00 221.00 1072.50 221.00 1072.50C221.00 1072.50 293.00 1078.50 293.00 1078.50C293.00 1078.50 365.00 1080.00 365.00 1080.00C365.00 1080.00 436.00 1076.50 436.00 1076.50C436.00 1076.50 507.50 1085.00 507.50 1085.00C507.50 1085.00 580.00 1086.00 580.00 1086.00C580.00 1086.00 651.50 1081.00 651.50 1081.00C651.50 1081.00 717.30 1075.30 717.30 1075.30" fill="none" stroke="#FF0000" stroke-width="3.6" stroke-linejoin="round"/>
<path d="M149.20 1096.00C149.20 1096.00 221.00 1113.50 221.00 1113.50C221.00 1113.50 293.00 1103.50 293.00 1103.50C293.00 1103.50 365.00 1106.00 365.00 1106.00C365.00 1106.00 436.00 1121.00 436.00 1121.00C436.00 1121.00 507.50 1121.00 507.50 1121.00" fill="none" stroke="#00F200" stroke-width="3.6" stroke-linejoin="round"/>
<path d="M651.50 1092.50C651.50 1092.50 717.30 1062.70 717.30 1062.70" fill="none" stroke="#00F200" stroke-width="3.6" stroke-linejoin="round"/>
<line x1="118.4" y1="971.6" x2="118.4" y2="975.9" stroke="#000" stroke-width="2.3" stroke-linecap="butt"/>
<line x1="110.2" y1="971.6" x2="126.60000000000001" y2="971.6" stroke="#000" stroke-width="2.8" stroke-linecap="round"/>
<line x1="118.4" y1="975.9" x2="118.4" y2="980.5" stroke="#000" stroke-width="2.3" stroke-linecap="butt"/>
<line x1="110.2" y1="980.5" x2="126.60000000000001" y2="980.5" stroke="#000" stroke-width="2.8" stroke-linecap="round"/>
<line x1="149.2" y1="970" x2="149.2" y2="974.8" stroke="#000" stroke-width="2.3" stroke-linecap="butt"/>
<line x1="141.0" y1="970" x2="157.39999999999998" y2="970" stroke="#000" stroke-width="2.8" stroke-linecap="round"/>
<line x1="149.2" y1="974.8" x2="149.2" y2="981.2" stroke="#000" stroke-width="2.3" stroke-linecap="butt"/>
<line x1="141.0" y1="981.2" x2="157.39999999999998" y2="981.2" stroke="#000" stroke-width="2.8" stroke-linecap="round"/>
<line x1="221.5" y1="983.5" x2="221.5" y2="991" stroke="#000" stroke-width="2.3" stroke-linecap="butt"/>
<line x1="213.3" y1="983.5" x2="229.7" y2="983.5" stroke="#000" stroke-width="2.8" stroke-linecap="round"/>
<line x1="221.5" y1="991" x2="221.5" y2="998.5" stroke="#000" stroke-width="2.3" stroke-linecap="butt"/>
<line x1="213.3" y1="998.5" x2="229.7" y2="998.5" stroke="#000" stroke-width="2.8" stroke-linecap="round"/>
<line x1="293" y1="988" x2="293" y2="992" stroke="#000" stroke-width="2.3" stroke-linecap="butt"/>
<line x1="284.8" y1="988" x2="301.2" y2="988" stroke="#000" stroke-width="2.8" stroke-linecap="round"/>
<line x1="293" y1="992" x2="293" y2="996" stroke="#000" stroke-width="2.3" stroke-linecap="butt"/>
<line x1="284.8" y1="996" x2="301.2" y2="996" stroke="#000" stroke-width="2.8" stroke-linecap="round"/>
<line x1="365" y1="983.5" x2="365" y2="993.5" stroke="#000" stroke-width="2.3" stroke-linecap="butt"/>
<line x1="356.8" y1="983.5" x2="373.2" y2="983.5" stroke="#000" stroke-width="2.8" stroke-linecap="round"/>
<line x1="365" y1="993.5" x2="365" y2="1006" stroke="#000" stroke-width="2.3" stroke-linecap="butt"/>
<line x1="356.8" y1="1006" x2="373.2" y2="1006" stroke="#000" stroke-width="2.8" stroke-linecap="round"/>
<line x1="436" y1="979" x2="436" y2="990" stroke="#000" stroke-width="2.3" stroke-linecap="butt"/>
<line x1="427.8" y1="979" x2="444.2" y2="979" stroke="#000" stroke-width="2.8" stroke-linecap="round"/>
<line x1="436" y1="990" x2="436" y2="1007.5" stroke="#000" stroke-width="2.3" stroke-linecap="butt"/>
<line x1="427.8" y1="1007.5" x2="444.2" y2="1007.5" stroke="#000" stroke-width="2.8" stroke-linecap="round"/>
<line x1="507.5" y1="981" x2="507.5" y2="989" stroke="#000" stroke-width="2.3" stroke-linecap="butt"/>
<line x1="499.3" y1="981" x2="515.7" y2="981" stroke="#000" stroke-width="2.8" stroke-linecap="round"/>
<line x1="507.5" y1="989" x2="507.5" y2="997.5" stroke="#000" stroke-width="2.3" stroke-linecap="butt"/>
<line x1="499.3" y1="997.5" x2="515.7" y2="997.5" stroke="#000" stroke-width="2.8" stroke-linecap="round"/>
<line x1="580" y1="981.5" x2="580" y2="986.5" stroke="#000" stroke-width="2.3" stroke-linecap="butt"/>
<line x1="571.8" y1="981.5" x2="588.2" y2="981.5" stroke="#000" stroke-width="2.8" stroke-linecap="round"/>
<line x1="580" y1="986.5" x2="580" y2="992.5" stroke="#000" stroke-width="2.3" stroke-linecap="butt"/>
<line x1="571.8" y1="992.5" x2="588.2" y2="992.5" stroke="#000" stroke-width="2.8" stroke-linecap="round"/>
<line x1="651.5" y1="981" x2="651.5" y2="987" stroke="#000" stroke-width="2.3" stroke-linecap="butt"/>
<line x1="643.3" y1="981" x2="659.7" y2="981" stroke="#000" stroke-width="2.8" stroke-linecap="round"/>
<line x1="651.5" y1="987" x2="651.5" y2="994" stroke="#000" stroke-width="2.3" stroke-linecap="butt"/>
<line x1="643.3" y1="994" x2="659.7" y2="994" stroke="#000" stroke-width="2.8" stroke-linecap="round"/>
<line x1="717.3" y1="977.7" x2="717.3" y2="982.4" stroke="#000" stroke-width="2.3" stroke-linecap="butt"/>
<line x1="709.0999999999999" y1="977.7" x2="725.5" y2="977.7" stroke="#000" stroke-width="2.8" stroke-linecap="round"/>
<line x1="717.3" y1="982.4" x2="717.3" y2="988" stroke="#000" stroke-width="2.3" stroke-linecap="butt"/>
<line x1="709.0999999999999" y1="988" x2="725.5" y2="988" stroke="#000" stroke-width="2.8" stroke-linecap="round"/>
<line x1="149.2" y1="1054.8" x2="149.2" y2="1059" stroke="#000" stroke-width="2.3" stroke-linecap="butt"/>
<line x1="141.0" y1="1054.8" x2="157.39999999999998" y2="1054.8" stroke="#000" stroke-width="2.8" stroke-linecap="round"/>
<line x1="149.2" y1="1059" x2="149.2" y2="1063.9" stroke="#000" stroke-width="2.3" stroke-linecap="butt"/>
<line x1="141.0" y1="1063.9" x2="157.39999999999998" y2="1063.9" stroke="#000" stroke-width="2.8" stroke-linecap="round"/>
<line x1="221" y1="1066" x2="221" y2="1072.5" stroke="#000" stroke-width="2.3" stroke-linecap="butt"/>
<line x1="212.8" y1="1066" x2="229.2" y2="1066" stroke="#000" stroke-width="2.8" stroke-linecap="round"/>
<line x1="221" y1="1072.5" x2="221" y2="1078.5" stroke="#000" stroke-width="2.3" stroke-linecap="butt"/>
<line x1="212.8" y1="1078.5" x2="229.2" y2="1078.5" stroke="#000" stroke-width="2.8" stroke-linecap="round"/>
<line x1="293" y1="1078.0" x2="293" y2="1078.5" stroke="#000" stroke-width="2.3" stroke-linecap="butt"/>
<line x1="284.8" y1="1078.0" x2="301.2" y2="1078.0" stroke="#000" stroke-width="2.8" stroke-linecap="round"/>
<line x1="293" y1="1078.5" x2="293" y2="1079.0" stroke="#000" stroke-width="2.3" stroke-linecap="butt"/>
<line x1="284.8" y1="1079.0" x2="301.2" y2="1079.0" stroke="#000" stroke-width="2.8" stroke-linecap="round"/>
<line x1="365" y1="1079.5" x2="365" y2="1080" stroke="#000" stroke-width="2.3" stroke-linecap="butt"/>
<line x1="356.8" y1="1079.5" x2="373.2" y2="1079.5" stroke="#000" stroke-width="2.8" stroke-linecap="round"/>
<line x1="365" y1="1080" x2="365" y2="1080.5" stroke="#000" stroke-width="2.3" stroke-linecap="butt"/>
<line x1="356.8" y1="1080.5" x2="373.2" y2="1080.5" stroke="#000" stroke-width="2.8" stroke-linecap="round"/>
<line x1="436" y1="1071" x2="436" y2="1076.5" stroke="#000" stroke-width="2.3" stroke-linecap="butt"/>
<line x1="427.8" y1="1071" x2="444.2" y2="1071" stroke="#000" stroke-width="2.8" stroke-linecap="round"/>
<line x1="436" y1="1076.5" x2="436" y2="1081.5" stroke="#000" stroke-width="2.3" stroke-linecap="butt"/>
<line x1="427.8" y1="1081.5" x2="444.2" y2="1081.5" stroke="#000" stroke-width="2.8" stroke-linecap="round"/>
<line x1="507.5" y1="1084.5" x2="507.5" y2="1085" stroke="#000" stroke-width="2.3" stroke-linecap="butt"/>
<line x1="499.3" y1="1084.5" x2="515.7" y2="1084.5" stroke="#000" stroke-width="2.8" stroke-linecap="round"/>
<line x1="507.5" y1="1085" x2="507.5" y2="1085.5" stroke="#000" stroke-width="2.3" stroke-linecap="butt"/>
<line x1="499.3" y1="1085.5" x2="515.7" y2="1085.5" stroke="#000" stroke-width="2.8" stroke-linecap="round"/>
<line x1="580" y1="1085.5" x2="580" y2="1086" stroke="#000" stroke-width="2.3" stroke-linecap="butt"/>
<line x1="571.8" y1="1085.5" x2="588.2" y2="1085.5" stroke="#000" stroke-width="2.8" stroke-linecap="round"/>
<line x1="580" y1="1086" x2="580" y2="1086.5" stroke="#000" stroke-width="2.3" stroke-linecap="butt"/>
<line x1="571.8" y1="1086.5" x2="588.2" y2="1086.5" stroke="#000" stroke-width="2.8" stroke-linecap="round"/>
<line x1="651.5" y1="1080.5" x2="651.5" y2="1081" stroke="#000" stroke-width="2.3" stroke-linecap="butt"/>
<line x1="643.3" y1="1080.5" x2="659.7" y2="1080.5" stroke="#000" stroke-width="2.8" stroke-linecap="round"/>
<line x1="651.5" y1="1081" x2="651.5" y2="1081.5" stroke="#000" stroke-width="2.3" stroke-linecap="butt"/>
<line x1="643.3" y1="1081.5" x2="659.7" y2="1081.5" stroke="#000" stroke-width="2.8" stroke-linecap="round"/>
<line x1="717.3" y1="1074.8" x2="717.3" y2="1075.3" stroke="#000" stroke-width="2.3" stroke-linecap="butt"/>
<line x1="709.0999999999999" y1="1074.8" x2="725.5" y2="1074.8" stroke="#000" stroke-width="2.8" stroke-linecap="round"/>
<line x1="717.3" y1="1075.3" x2="717.3" y2="1075.8" stroke="#000" stroke-width="2.3" stroke-linecap="butt"/>
<line x1="709.0999999999999" y1="1075.8" x2="725.5" y2="1075.8" stroke="#000" stroke-width="2.8" stroke-linecap="round"/>
<line x1="149.2" y1="1091" x2="149.2" y2="1096" stroke="#000" stroke-width="2.3" stroke-linecap="butt"/>
<line x1="141.0" y1="1091" x2="157.39999999999998" y2="1091" stroke="#000" stroke-width="2.8" stroke-linecap="round"/>
<line x1="149.2" y1="1096" x2="149.2" y2="1101.5" stroke="#000" stroke-width="2.3" stroke-linecap="butt"/>
<line x1="141.0" y1="1101.5" x2="157.39999999999998" y2="1101.5" stroke="#000" stroke-width="2.8" stroke-linecap="round"/>
<line x1="221" y1="1108.5" x2="221" y2="1113.5" stroke="#000" stroke-width="2.3" stroke-linecap="butt"/>
<line x1="212.8" y1="1108.5" x2="229.2" y2="1108.5" stroke="#000" stroke-width="2.8" stroke-linecap="round"/>
<line x1="221" y1="1113.5" x2="221" y2="1118.5" stroke="#000" stroke-width="2.3" stroke-linecap="butt"/>
<line x1="212.8" y1="1118.5" x2="229.2" y2="1118.5" stroke="#000" stroke-width="2.8" stroke-linecap="round"/>
<line x1="293" y1="1102.7" x2="293" y2="1103.5" stroke="#000" stroke-width="2.3" stroke-linecap="butt"/>
<line x1="284.8" y1="1102.7" x2="301.2" y2="1102.7" stroke="#000" stroke-width="2.8" stroke-linecap="round"/>
<line x1="293" y1="1103.5" x2="293" y2="1104.3" stroke="#000" stroke-width="2.3" stroke-linecap="butt"/>
<line x1="284.8" y1="1104.3" x2="301.2" y2="1104.3" stroke="#000" stroke-width="2.8" stroke-linecap="round"/>
<line x1="365" y1="1105.5" x2="365" y2="1106" stroke="#000" stroke-width="2.3" stroke-linecap="butt"/>
<line x1="356.8" y1="1105.5" x2="373.2" y2="1105.5" stroke="#000" stroke-width="2.8" stroke-linecap="round"/>
<line x1="365" y1="1106" x2="365" y2="1106.5" stroke="#000" stroke-width="2.3" stroke-linecap="butt"/>
<line x1="356.8" y1="1106.5" x2="373.2" y2="1106.5" stroke="#000" stroke-width="2.8" stroke-linecap="round"/>
<line x1="436" y1="1120.5" x2="436" y2="1121" stroke="#000" stroke-width="2.3" stroke-linecap="butt"/>
<line x1="427.8" y1="1120.5" x2="444.2" y2="1120.5" stroke="#000" stroke-width="2.8" stroke-linecap="round"/>
<line x1="436" y1="1121" x2="436" y2="1121.5" stroke="#000" stroke-width="2.3" stroke-linecap="butt"/>
<line x1="427.8" y1="1121.5" x2="444.2" y2="1121.5" stroke="#000" stroke-width="2.8" stroke-linecap="round"/>
<line x1="507.5" y1="1120.5" x2="507.5" y2="1121" stroke="#000" stroke-width="2.3" stroke-linecap="butt"/>
<line x1="499.3" y1="1120.5" x2="515.7" y2="1120.5" stroke="#000" stroke-width="2.8" stroke-linecap="round"/>
<line x1="507.5" y1="1121" x2="507.5" y2="1121.5" stroke="#000" stroke-width="2.3" stroke-linecap="butt"/>
<line x1="499.3" y1="1121.5" x2="515.7" y2="1121.5" stroke="#000" stroke-width="2.8" stroke-linecap="round"/>
<line x1="651.5" y1="1091.0" x2="651.5" y2="1092.5" stroke="#000" stroke-width="2.3" stroke-linecap="butt"/>
<line x1="643.3" y1="1091.0" x2="659.7" y2="1091.0" stroke="#000" stroke-width="2.8" stroke-linecap="round"/>
<line x1="651.5" y1="1092.5" x2="651.5" y2="1094.0" stroke="#000" stroke-width="2.3" stroke-linecap="butt"/>
<line x1="643.3" y1="1094.0" x2="659.7" y2="1094.0" stroke="#000" stroke-width="2.8" stroke-linecap="round"/>
<line x1="717.3" y1="1062.2" x2="717.3" y2="1062.7" stroke="#000" stroke-width="2.3" stroke-linecap="butt"/>
<line x1="709.0999999999999" y1="1062.2" x2="725.5" y2="1062.2" stroke="#000" stroke-width="2.8" stroke-linecap="round"/>
<line x1="717.3" y1="1062.7" x2="717.3" y2="1063.2" stroke="#000" stroke-width="2.3" stroke-linecap="butt"/>
<line x1="709.0999999999999" y1="1063.2" x2="725.5" y2="1063.2" stroke="#000" stroke-width="2.8" stroke-linecap="round"/>
<path d="M149.2 1052.2L155.7 1059L149.2 1065.8L142.7 1059Z" fill="#FF0000"/>
<path d="M221 1065.7L227.5 1072.5L221 1079.3L214.5 1072.5Z" fill="#FF0000"/>
<path d="M293 1071.7L299.5 1078.5L293 1085.3L286.5 1078.5Z" fill="#FF0000"/>
<path d="M365 1073.2L371.5 1080L365 1086.8L358.5 1080Z" fill="#FF0000"/>
<path d="M436 1069.7L442.5 1076.5L436 1083.3L429.5 1076.5Z" fill="#FF0000"/>
<path d="M507.5 1078.2L514.0 1085L507.5 1091.8L501.0 1085Z" fill="#FF0000"/>
<path d="M580 1079.2L586.5 1086L580 1092.8L573.5 1086Z" fill="#FF0000"/>
<path d="M651.5 1074.2L658.0 1081L651.5 1087.8L645.0 1081Z" fill="#FF0000"/>
<path d="M717.3 1068.5L723.8 1075.3L717.3 1082.1L710.8 1075.3Z" fill="#FF0000"/>
<path d="M149.2 1089.2L155.7 1096L149.2 1102.8L142.7 1096Z" fill="#00F200"/>
<path d="M221 1106.7L227.5 1113.5L221 1120.3L214.5 1113.5Z" fill="#00F200"/>
<path d="M293 1096.7L299.5 1103.5L293 1110.3L286.5 1103.5Z" fill="#00F200"/>
<path d="M365 1099.2L371.5 1106L365 1112.8L358.5 1106Z" fill="#00F200"/>
<path d="M436 1114.2L442.5 1121L436 1127.8L429.5 1121Z" fill="#00F200"/>
<path d="M507.5 1114.2L514.0 1121L507.5 1127.8L501.0 1121Z" fill="#00F200"/>
<path d="M651.5 1085.7L658.0 1092.5L651.5 1099.3L645.0 1092.5Z" fill="#00F200"/>
<path d="M717.3 1055.9L723.8 1062.7L717.3 1069.5L710.8 1062.7Z" fill="#00F200"/>
<path d="M118.4 969.1L124.9 975.9L118.4 982.6999999999999L111.9 975.9Z" fill="#0A63C9"/>
<path d="M149.2 968.0L155.7 974.8L149.2 981.5999999999999L142.7 974.8Z" fill="#0A63C9"/>
<path d="M221.5 984.2L228.0 991L221.5 997.8L215.0 991Z" fill="#0A63C9"/>
<path d="M293 985.2L299.5 992L293 998.8L286.5 992Z" fill="#0A63C9"/>
<path d="M365 986.7L371.5 993.5L365 1000.3L358.5 993.5Z" fill="#0A63C9"/>
<path d="M436 983.2L442.5 990L436 996.8L429.5 990Z" fill="#0A63C9"/>
<path d="M507.5 982.2L514.0 989L507.5 995.8L501.0 989Z" fill="#0A63C9"/>
<path d="M580 979.7L586.5 986.5L580 993.3L573.5 986.5Z" fill="#0A63C9"/>
<path d="M651.5 980.2L658.0 987L651.5 993.8L645.0 987Z" fill="#0A63C9"/>
<path d="M717.3 975.6L723.8 982.4L717.3 989.1999999999999L710.8 982.4Z" fill="#0A63C9"/>
<line x1="118.3" y1="1164" x2="118.3" y2="1174.5" stroke="#000" stroke-width="3" stroke-linecap="butt"/>
<text transform="translate(118.30 1210.60) scale(1 1.04)" font-size="27.5" text-anchor="middle" stroke-width="1.0" >0</text>
<line x1="230.8" y1="1164" x2="230.8" y2="1174.5" stroke="#000" stroke-width="3" stroke-linecap="butt"/>
<text transform="translate(230.80 1210.60) scale(1 1.04)" font-size="27.5" text-anchor="middle" stroke-width="1.0" >2</text>
<line x1="343.3" y1="1164" x2="343.3" y2="1174.5" stroke="#000" stroke-width="3" stroke-linecap="butt"/>
<text transform="translate(343.30 1210.60) scale(1 1.04)" font-size="27.5" text-anchor="middle" stroke-width="1.0" >4</text>
<line x1="455.8" y1="1164" x2="455.8" y2="1174.5" stroke="#000" stroke-width="3" stroke-linecap="butt"/>
<text transform="translate(455.80 1210.60) scale(1 1.04)" font-size="27.5" text-anchor="middle" stroke-width="1.0" >6</text>
<line x1="568.3" y1="1164" x2="568.3" y2="1174.5" stroke="#000" stroke-width="3" stroke-linecap="butt"/>
<text transform="translate(568.30 1210.60) scale(1 1.04)" font-size="27.5" text-anchor="middle" stroke-width="1.0" >8</text>
<line x1="680.8" y1="1164" x2="680.8" y2="1174.5" stroke="#000" stroke-width="3" stroke-linecap="butt"/>
<text transform="translate(680.80 1210.60) scale(1 1.04)" font-size="27.5" text-anchor="middle" stroke-width="1.0" >10</text>
<text transform="translate(290.50 1241.50) scale(1 1.04)" font-size="27.9" text-anchor="start" stroke-width="1.0" >Gas flow rate, mL/min</text>
<text transform="translate(52.50 912.38) scale(1 1.04)" font-size="29" stroke-width="1.0">10<tspan font-size="19" dx="-2" dy="-7.6">5</tspan></text>
<text transform="translate(52.50 1000.08) scale(1 1.04)" font-size="29" stroke-width="1.0">10<tspan font-size="19" dx="-2" dy="-7.6">4</tspan></text>
<text transform="translate(52.50 1060.18) scale(1 1.04)" font-size="29" stroke-width="1.0">10<tspan font-size="19" dx="-2" dy="-7.6">1</tspan></text>
<text transform="translate(52.50 1116.98) scale(1 1.04)" font-size="29" stroke-width="1.0">10<tspan font-size="19" dx="-2" dy="-7.6">0</tspan></text>
<text transform="translate(52.50 1173.38) scale(1 1.04)" font-size="29" stroke-width="1.0">10<tspan font-size="19" dx="-2" dy="-7.6">-1</tspan></text>
<text transform="translate(22.2,1034.4) rotate(-90) scale(1 1.04)" x="-63.5" y="0" font-size="28" textLength="127" lengthAdjust="spacingAndGlyphs" stroke="#000" stroke-width="0.7">BEC, µg/L</text>
<line x1="115.9" y1="1374" x2="735" y2="1374" stroke="#BEBEBE" stroke-width="2" stroke-linecap="butt"/>
<line x1="115.9" y1="1422.8" x2="735" y2="1422.8" stroke="#BEBEBE" stroke-width="2" stroke-linecap="butt"/>
<line x1="115.9" y1="1472.3" x2="735" y2="1472.3" stroke="#BEBEBE" stroke-width="2" stroke-linecap="butt"/>
<line x1="115.9" y1="1529" x2="735" y2="1529" stroke="#BEBEBE" stroke-width="2" stroke-linecap="butt"/>
<line x1="115.3" y1="1277.7" x2="178" y2="1277.7" stroke="#0A63C9" stroke-width="4" stroke-linecap="round"/>
<path d="M146.65 1270.4L153.25 1277.7L146.65 1285.0L140.05 1277.7Z" fill="#0A63C9"/>
<text transform="translate(194.70 1287.00) scale(1 1.04)" font-size="27.5" text-anchor="start" stroke-width="1.0" >Q1:80 - Q2:80</text>
<line x1="115.3" y1="1309.7" x2="178" y2="1309.7" stroke="#FF0000" stroke-width="4" stroke-linecap="round"/>
<path d="M146.65 1302.4L153.25 1309.7L146.65 1317.0L140.05 1309.7Z" fill="#FF0000"/>
<text transform="translate(194.70 1318.30) scale(1 1.04)" font-size="27.5" text-anchor="start" stroke-width="1.0" >Q1:80 - Q2:158</text>
<line x1="414" y1="1277.8" x2="476" y2="1277.8" stroke="#00F200" stroke-width="4" stroke-linecap="round"/>
<path d="M445.0 1270.5L451.6 1277.8L445.0 1285.1L438.4 1277.8Z" fill="#00F200"/>
<text transform="translate(493.20 1287.00) scale(1 1.04)" font-size="27.5" text-anchor="start" stroke-width="1.0" >Q1:80 Q2:159</text>
<path d="M115.9 1437V1323.5H735V1437" fill="none" stroke="#000" stroke-width="3.4"/>
<path d="M115.9 1471V1584.5H735V1471" fill="none" stroke="#000" stroke-width="3.4"/>
<line x1="104.5" y1="1449.5" x2="127.8" y2="1426.7" stroke="#000" stroke-width="3" stroke-linecap="round"/>
<line x1="104.5" y1="1484.2" x2="127.8" y2="1461.4" stroke="#000" stroke-width="3" stroke-linecap="round"/>
<line x1="723.6" y1="1448.6" x2="746.2" y2="1426.8" stroke="#000" stroke-width="3" stroke-linecap="round"/>
<line x1="723.6" y1="1483.6" x2="746.2" y2="1461.8" stroke="#000" stroke-width="3" stroke-linecap="round"/>
<line x1="105" y1="1323.5" x2="115.9" y2="1323.5" stroke="#000" stroke-width="3.4" stroke-linecap="butt"/>
<line x1="105" y1="1374" x2="115.9" y2="1374" stroke="#000" stroke-width="3.4" stroke-linecap="butt"/>
<line x1="105" y1="1422.8" x2="115.9" y2="1422.8" stroke="#000" stroke-width="3.4" stroke-linecap="butt"/>
<line x1="105" y1="1529" x2="115.9" y2="1529" stroke="#000" stroke-width="3.4" stroke-linecap="butt"/>
<line x1="105" y1="1584.5" x2="115.9" y2="1584.5" stroke="#000" stroke-width="3.4" stroke-linecap="butt"/>
<path d="M579.00 1366.50C579.00 1366.50 651.00 1396.00 651.00 1396.00C651.00 1396.00 717.30 1406.30 717.30 1406.30" fill="none" stroke="#0A63C9" stroke-width="3.6" stroke-linejoin="round"/>
<path d="M218.50 1500.50C218.50 1500.50 291.00 1504.00 291.00 1504.00C291.00 1504.00 363.50 1520.00 363.50 1520.00C363.50 1520.00 435.00 1539.00 435.00 1539.00C435.00 1539.00 507.50 1546.00 507.50 1546.00C507.50 1546.00 579.00 1531.50 579.00 1531.50" fill="none" stroke="#FF0000" stroke-width="3.6" stroke-linejoin="round"/>
<path d="M363.50 1516.50C363.50 1516.50 435.00 1499.00 435.00 1499.00" fill="none" stroke="#00F200" stroke-width="3.6" stroke-linejoin="round"/>
<line x1="579" y1="1348.5" x2="579" y2="1366.5" stroke="#000" stroke-width="2.3" stroke-linecap="butt"/>
<line x1="570.8" y1="1348.5" x2="587.2" y2="1348.5" stroke="#000" stroke-width="2.8" stroke-linecap="round"/>
<line x1="651" y1="1388.5" x2="651" y2="1396" stroke="#000" stroke-width="2.3" stroke-linecap="butt"/>
<line x1="642.8" y1="1388.5" x2="659.2" y2="1388.5" stroke="#000" stroke-width="2.8" stroke-linecap="round"/>
<line x1="651" y1="1396" x2="651" y2="1407" stroke="#000" stroke-width="2.3" stroke-linecap="butt"/>
<line x1="642.8" y1="1407" x2="659.2" y2="1407" stroke="#000" stroke-width="2.8" stroke-linecap="round"/>
<line x1="717.3" y1="1397.7" x2="717.3" y2="1406.3" stroke="#000" stroke-width="2.3" stroke-linecap="butt"/>
<line x1="709.0999999999999" y1="1397.7" x2="725.5" y2="1397.7" stroke="#000" stroke-width="2.8" stroke-linecap="round"/>
<line x1="717.3" y1="1406.3" x2="717.3" y2="1420.1" stroke="#000" stroke-width="2.3" stroke-linecap="butt"/>
<line x1="709.0999999999999" y1="1420.1" x2="725.5" y2="1420.1" stroke="#000" stroke-width="2.8" stroke-linecap="round"/>
<line x1="218.5" y1="1497.5" x2="218.5" y2="1500.5" stroke="#000" stroke-width="2.3" stroke-linecap="butt"/>
<line x1="210.3" y1="1497.5" x2="226.7" y2="1497.5" stroke="#000" stroke-width="2.8" stroke-linecap="round"/>
<line x1="218.5" y1="1500.5" x2="218.5" y2="1503.5" stroke="#000" stroke-width="2.3" stroke-linecap="butt"/>
<line x1="210.3" y1="1503.5" x2="226.7" y2="1503.5" stroke="#000" stroke-width="2.8" stroke-linecap="round"/>
<line x1="291" y1="1503.5" x2="291" y2="1504" stroke="#000" stroke-width="2.3" stroke-linecap="butt"/>
<line x1="282.8" y1="1503.5" x2="299.2" y2="1503.5" stroke="#000" stroke-width="2.8" stroke-linecap="round"/>
<line x1="291" y1="1504" x2="291" y2="1504.5" stroke="#000" stroke-width="2.3" stroke-linecap="butt"/>
<line x1="282.8" y1="1504.5" x2="299.2" y2="1504.5" stroke="#000" stroke-width="2.8" stroke-linecap="round"/>
<line x1="363.5" y1="1519.5" x2="363.5" y2="1520" stroke="#000" stroke-width="2.3" stroke-linecap="butt"/>
<line x1="355.3" y1="1519.5" x2="371.7" y2="1519.5" stroke="#000" stroke-width="2.8" stroke-linecap="round"/>
<line x1="363.5" y1="1520" x2="363.5" y2="1520.5" stroke="#000" stroke-width="2.3" stroke-linecap="butt"/>
<line x1="355.3" y1="1520.5" x2="371.7" y2="1520.5" stroke="#000" stroke-width="2.8" stroke-linecap="round"/>
<line x1="435" y1="1538.5" x2="435" y2="1539" stroke="#000" stroke-width="2.3" stroke-linecap="butt"/>
<line x1="426.8" y1="1538.5" x2="443.2" y2="1538.5" stroke="#000" stroke-width="2.8" stroke-linecap="round"/>
<line x1="435" y1="1539" x2="435" y2="1539.5" stroke="#000" stroke-width="2.3" stroke-linecap="butt"/>
<line x1="426.8" y1="1539.5" x2="443.2" y2="1539.5" stroke="#000" stroke-width="2.8" stroke-linecap="round"/>
<line x1="507.5" y1="1545.5" x2="507.5" y2="1546" stroke="#000" stroke-width="2.3" stroke-linecap="butt"/>
<line x1="499.3" y1="1545.5" x2="515.7" y2="1545.5" stroke="#000" stroke-width="2.8" stroke-linecap="round"/>
<line x1="507.5" y1="1546" x2="507.5" y2="1546.5" stroke="#000" stroke-width="2.3" stroke-linecap="butt"/>
<line x1="499.3" y1="1546.5" x2="515.7" y2="1546.5" stroke="#000" stroke-width="2.8" stroke-linecap="round"/>
<line x1="579" y1="1531.0" x2="579" y2="1531.5" stroke="#000" stroke-width="2.3" stroke-linecap="butt"/>
<line x1="570.8" y1="1531.0" x2="587.2" y2="1531.0" stroke="#000" stroke-width="2.8" stroke-linecap="round"/>
<line x1="579" y1="1531.5" x2="579" y2="1532.0" stroke="#000" stroke-width="2.3" stroke-linecap="butt"/>
<line x1="570.8" y1="1532.0" x2="587.2" y2="1532.0" stroke="#000" stroke-width="2.8" stroke-linecap="round"/>
<line x1="363.5" y1="1515.0" x2="363.5" y2="1516.5" stroke="#000" stroke-width="2.3" stroke-linecap="butt"/>
<line x1="355.3" y1="1515.0" x2="371.7" y2="1515.0" stroke="#000" stroke-width="2.8" stroke-linecap="round"/>
<line x1="363.5" y1="1516.5" x2="363.5" y2="1518.0" stroke="#000" stroke-width="2.3" stroke-linecap="butt"/>
<line x1="355.3" y1="1518.0" x2="371.7" y2="1518.0" stroke="#000" stroke-width="2.8" stroke-linecap="round"/>
<line x1="435" y1="1498.2" x2="435" y2="1499" stroke="#000" stroke-width="2.3" stroke-linecap="butt"/>
<line x1="426.8" y1="1498.2" x2="443.2" y2="1498.2" stroke="#000" stroke-width="2.8" stroke-linecap="round"/>
<line x1="435" y1="1499" x2="435" y2="1499.8" stroke="#000" stroke-width="2.3" stroke-linecap="butt"/>
<line x1="426.8" y1="1499.8" x2="443.2" y2="1499.8" stroke="#000" stroke-width="2.8" stroke-linecap="round"/>
<line x1="650" y1="1490.3" x2="650" y2="1491.5" stroke="#000" stroke-width="2.3" stroke-linecap="butt"/>
<line x1="641.8" y1="1490.3" x2="658.2" y2="1490.3" stroke="#000" stroke-width="2.8" stroke-linecap="round"/>
<line x1="650" y1="1491.5" x2="650" y2="1492.7" stroke="#000" stroke-width="2.3" stroke-linecap="butt"/>
<line x1="641.8" y1="1492.7" x2="658.2" y2="1492.7" stroke="#000" stroke-width="2.8" stroke-linecap="round"/>
<path d="M218.5 1493.7L225.0 1500.5L218.5 1507.3L212.0 1500.5Z" fill="#FF0000"/>
<path d="M291 1497.2L297.5 1504L291 1510.8L284.5 1504Z" fill="#FF0000"/>
<path d="M363.5 1513.2L370.0 1520L363.5 1526.8L357.0 1520Z" fill="#FF0000"/>
<path d="M435 1532.2L441.5 1539L435 1545.8L428.5 1539Z" fill="#FF0000"/>
<path d="M507.5 1539.2L514.0 1546L507.5 1552.8L501.0 1546Z" fill="#FF0000"/>
<path d="M579 1524.7L585.5 1531.5L579 1538.3L572.5 1531.5Z" fill="#FF0000"/>
<path d="M363.5 1509.7L370.0 1516.5L363.5 1523.3L357.0 1516.5Z" fill="#00F200"/>
<path d="M435 1492.2L441.5 1499L435 1505.8L428.5 1499Z" fill="#00F200"/>
<path d="M650 1484.7L656.5 1491.5L650 1498.3L643.5 1491.5Z" fill="#00F200"/>
<path d="M579 1359.7L585.5 1366.5L579 1373.3L572.5 1366.5Z" fill="#0A63C9"/>
<path d="M651 1389.2L657.5 1396L651 1402.8L644.5 1396Z" fill="#0A63C9"/>
<path d="M717.3 1399.5L723.8 1406.3L717.3 1413.1L710.8 1406.3Z" fill="#0A63C9"/>
<line x1="115.7" y1="1584.5" x2="115.7" y2="1595.0" stroke="#000" stroke-width="3" stroke-linecap="butt"/>
<text transform="translate(115.70 1631.50) scale(1 1.04)" font-size="27.5" text-anchor="middle" stroke-width="1.0" >0</text>
<line x1="228.5" y1="1584.5" x2="228.5" y2="1595.0" stroke="#000" stroke-width="3" stroke-linecap="butt"/>
<text transform="translate(228.50 1631.50) scale(1 1.04)" font-size="27.5" text-anchor="middle" stroke-width="1.0" >2</text>
<line x1="341.3" y1="1584.5" x2="341.3" y2="1595.0" stroke="#000" stroke-width="3" stroke-linecap="butt"/>
<text transform="translate(341.30 1631.50) scale(1 1.04)" font-size="27.5" text-anchor="middle" stroke-width="1.0" >4</text>
<line x1="454.09999999999997" y1="1584.5" x2="454.09999999999997" y2="1595.0" stroke="#000" stroke-width="3" stroke-linecap="butt"/>
<text transform="translate(454.10 1631.50) scale(1 1.04)" font-size="27.5" text-anchor="middle" stroke-width="1.0" >6</text>
<line x1="566.9" y1="1584.5" x2="566.9" y2="1595.0" stroke="#000" stroke-width="3" stroke-linecap="butt"/>
<text transform="translate(566.90 1631.50) scale(1 1.04)" font-size="27.5" text-anchor="middle" stroke-width="1.0" >8</text>
<line x1="679.7" y1="1584.5" x2="679.7" y2="1595.0" stroke="#000" stroke-width="3" stroke-linecap="butt"/>
<text transform="translate(679.70 1631.50) scale(1 1.04)" font-size="27.5" text-anchor="middle" stroke-width="1.0" >10</text>
<text transform="translate(290.50 1661.50) scale(1 1.04)" font-size="27.9" text-anchor="start" stroke-width="1.0" >Gas flow rate, mL/min</text>
<text transform="translate(52.40 1335.08) scale(1 1.04)" font-size="29" stroke-width="1.0">10<tspan font-size="19" dx="-2" dy="-7.6">3</tspan></text>
<text transform="translate(52.40 1384.38) scale(1 1.04)" font-size="29" stroke-width="1.0">10<tspan font-size="19" dx="-2" dy="-7.6">2</tspan></text>
<text transform="translate(52.40 1432.38) scale(1 1.04)" font-size="29" stroke-width="1.0">10<tspan font-size="19" dx="-2" dy="-7.6">1</tspan></text>
<text transform="translate(52.40 1482.08) scale(1 1.04)" font-size="29" stroke-width="1.0">10<tspan font-size="19" dx="-2" dy="-7.6">-1</tspan></text>
<text transform="translate(52.40 1539.38) scale(1 1.04)" font-size="29" stroke-width="1.0">10<tspan font-size="19" dx="-2" dy="-7.6">-2</tspan></text>
<text transform="translate(52.40 1595.08) scale(1 1.04)" font-size="29" stroke-width="1.0">10<tspan font-size="19" dx="-2" dy="-7.6">-3</tspan></text>
<text transform="translate(22.2,1456.5) rotate(-90) scale(1 1.04)" x="-63.0" y="0" font-size="28" textLength="126" lengthAdjust="spacingAndGlyphs" stroke="#000" stroke-width="0.7">BEC, µg/L</text>
</svg>
</body></html>
